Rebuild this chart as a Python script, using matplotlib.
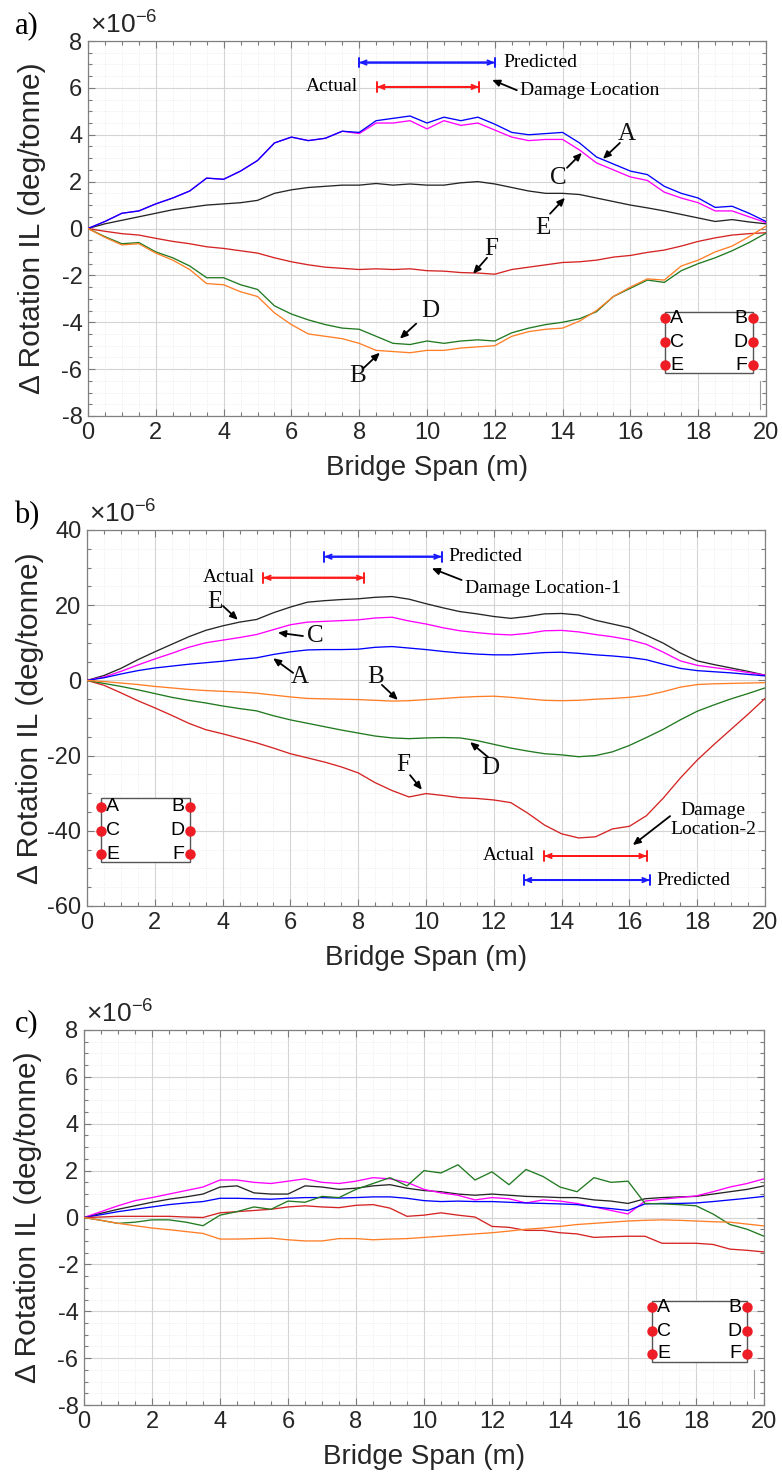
import numpy as np
import matplotlib.pyplot as plt
from matplotlib.patches import Rectangle

# bridge span sampling positions (m)
span = [0, 0.5, 1, 1.5, 2, 2.5, 3, 3.5, 4, 4.5, 5, 5.5, 6, 6.5, 7, 7.5, 8, 8.5, 9, 9.5, 10,
        10.5, 11, 11.5, 12, 12.5, 13, 13.5, 14, 14.5, 15, 15.5, 16, 16.5, 17, 17.5, 18, 18.5, 19, 19.5, 20]

# ---- panel a (x1e-6 deg/tonne) ----
a_A = [0, 0.3, 0.65, 0.75, 1.05, 1.3, 1.6, 2.15, 2.1, 2.45, 2.9, 3.65, 3.9, 3.75, 3.85, 4.15, 4.1, 4.6, 4.7, 4.8, 4.5,
       4.75, 4.6, 4.75, 4.45, 4.1, 4.0, 4.05, 4.1, 3.65, 3.05, 2.75, 2.45, 2.3, 1.8, 1.5, 1.3, 0.9, 0.95, 0.65, 0.3]
a_C = [0, 0.3, 0.65, 0.75, 1.05, 1.3, 1.6, 2.15, 2.1, 2.45, 2.9, 3.65, 3.9, 3.75, 3.85, 4.15, 4.05, 4.5, 4.5, 4.6, 4.25,
       4.6, 4.4, 4.5, 4.2, 3.9, 3.75, 3.8, 3.8, 3.35, 2.8, 2.5, 2.2, 2.05, 1.55, 1.3, 1.1, 0.75, 0.75, 0.5, 0.25]
a_E = [0, 0.2, 0.35, 0.5, 0.65, 0.8, 0.9, 1.0, 1.05, 1.1, 1.2, 1.5, 1.65, 1.75, 1.8, 1.85, 1.85, 1.92, 1.85, 1.9, 1.85,
       1.85, 1.95, 2.0, 1.9, 1.75, 1.6, 1.5, 1.5, 1.45, 1.3, 1.15, 1.0, 0.88, 0.75, 0.6, 0.45, 0.3, 0.38, 0.28, 0.2]
a_F = [0, -0.12, -0.22, -0.28, -0.42, -0.55, -0.65, -0.78, -0.85, -0.95, -1.05, -1.25, -1.42, -1.55, -1.65, -1.7,
       -1.75, -1.72, -1.75, -1.72, -1.8, -1.82, -1.88, -1.9, -1.95, -1.75, -1.65, -1.55, -1.45, -1.42, -1.35, -1.22,
       -1.15, -1.02, -0.92, -0.75, -0.55, -0.4, -0.28, -0.22, -0.18]
a_D = [0, -0.35, -0.65, -0.6, -1.0, -1.25, -1.6, -2.1, -2.1, -2.4, -2.6, -3.3, -3.65, -3.9, -4.1, -4.25, -4.3, -4.6,
       -4.9, -4.95, -4.8, -4.9, -4.8, -4.75, -4.8, -4.45, -4.25, -4.1, -4.0, -3.85, -3.55, -2.9, -2.55, -2.2, -2.3,
       -1.8, -1.5, -1.25, -0.95, -0.6, -0.2]
a_B = [0, -0.38, -0.7, -0.65, -1.05, -1.35, -1.75, -2.35, -2.4, -2.7, -2.9, -3.6, -4.1, -4.5, -4.6, -4.7, -4.9, -5.2,
       -5.25, -5.3, -5.2, -5.2, -5.1, -5.05, -5.0, -4.6, -4.4, -4.3, -4.25, -3.95, -3.5, -2.9, -2.5, -2.15, -2.2,
       -1.6, -1.35, -1.0, -0.75, -0.35, 0.1]

# ---- panel b ----
b_A = [0, 0.7, 1.7, 2.6, 3.3, 3.8, 4.3, 4.7, 5.1, 5.6, 6.0, 6.9, 7.6, 8.1, 8.2, 8.2, 8.3, 8.8, 9.0, 8.6, 8.2,
       7.7, 7.3, 7.0, 6.8, 6.8, 7.1, 7.4, 7.5, 7.2, 6.8, 6.5, 6.1, 5.5, 4.3, 3.2, 2.6, 2.3, 2.0, 1.6, 1.2]
b_C = [0, 0.9, 2.4, 4.1, 5.7, 7.2, 8.8, 10.0, 10.7, 11.4, 12.2, 13.5, 14.8, 15.5, 15.7, 15.9, 16.1, 16.6, 16.8, 15.8,
       15.0, 14.0, 13.2, 12.7, 12.3, 12.1, 12.5, 13.2, 13.3, 12.9, 12.2, 11.6, 10.8, 9.6, 7.5, 5.2, 4.0, 3.4, 2.8,
       2.1, 1.4]
b_E = [0, 1.3, 3.2, 5.5, 7.6, 9.6, 11.6, 13.3, 14.5, 15.5, 16.2, 18.0, 19.5, 20.8, 21.2, 21.5, 21.7, 22.1, 22.3,
       21.6, 20.4, 19.3, 18.3, 17.7, 17.0, 16.5, 17.0, 17.7, 17.8, 17.4, 16.0, 15.0, 14.0, 12.0, 9.9, 7.3, 5.2, 4.2,
       3.3, 2.4, 1.4]
b_B = [0, -0.3, -0.7, -1.1, -1.6, -2.0, -2.4, -2.7, -2.9, -3.1, -3.4, -3.9, -4.4, -4.8, -4.9, -5.0, -5.1, -5.3,
       -5.5, -5.4, -5.1, -4.8, -4.5, -4.3, -4.2, -4.5, -4.9, -5.3, -5.4, -5.3, -5.0, -4.8, -4.5, -4.0, -3.0, -1.8,
       -1.1, -0.9, -0.8, -0.7, -0.6]
b_D = [0, -0.8, -1.6, -2.5, -3.5, -4.5, -5.3, -6.0, -6.8, -7.5, -8.1, -9.4, -10.5, -11.4, -12.3, -13.2, -14.0,
       -14.8, -15.3, -15.5, -15.3, -15.2, -15.3, -16.0, -17.0, -18.0, -18.8, -19.5, -19.8, -20.3, -20.0, -19.0,
       -17.3, -15.2, -13.0, -10.5, -8.2, -6.5, -4.9, -3.5, -2.0]
b_F = [0, -1.3, -3.3, -5.4, -7.3, -9.3, -11.4, -13.1, -14.2, -15.4, -16.6, -18.0, -19.5, -20.6, -21.7, -23.0,
       -24.6, -27.2, -29.3, -31.0, -30.1, -30.6, -31.2, -31.4, -31.8, -32.5, -35.3, -38.5, -40.8, -41.9, -41.6,
       -39.5, -38.8, -36.0, -31.3, -26.0, -21.2, -17.0, -13.0, -9.0, -4.8]

# ---- panel c ----
c_A = [0, 0.12, 0.25, 0.35, 0.45, 0.55, 0.62, 0.68, 0.82, 0.82, 0.8, 0.78, 0.82, 0.85, 0.85, 0.83, 0.85, 0.88,
       0.88, 0.82, 0.72, 0.68, 0.7, 0.68, 0.68, 0.65, 0.62, 0.6, 0.58, 0.55, 0.45, 0.38, 0.3, 0.58, 0.6, 0.6, 0.62,
       0.68, 0.75, 0.82, 0.9]
c_C = [0, 0.25, 0.5, 0.72, 0.85, 1.0, 1.15, 1.3, 1.6, 1.6, 1.5, 1.45, 1.55, 1.65, 1.5, 1.45, 1.55, 1.7, 1.65, 1.5,
       1.2, 1.05, 0.95, 0.75, 0.85, 0.8, 0.62, 0.75, 0.7, 0.6, 0.45, 0.3, 0.15, 0.7, 0.78, 0.85, 0.92, 1.1, 1.3,
       1.45, 1.65]
c_E = [0, 0.18, 0.35, 0.5, 0.65, 0.78, 0.88, 1.0, 1.3, 1.35, 1.05, 1.0, 1.0, 1.35, 1.3, 1.2, 1.25, 1.35, 1.4, 1.25,
       1.15, 1.1, 1.0, 0.95, 1.0, 0.95, 0.9, 0.88, 0.85, 0.85, 0.75, 0.7, 0.6, 0.8, 0.85, 0.88, 0.9, 1.0, 1.1, 1.2,
       1.35]
c_B = [0, -0.12, -0.25, -0.35, -0.45, -0.52, -0.6, -0.68, -0.92, -0.92, -0.9, -0.88, -0.95, -1.0, -1.0, -0.9,
       -0.9, -0.95, -0.92, -0.9, -0.85, -0.8, -0.75, -0.7, -0.65, -0.58, -0.5, -0.45, -0.38, -0.3, -0.25, -0.2,
       -0.15, -0.12, -0.1, -0.12, -0.15, -0.18, -0.2, -0.28, -0.36]
c_D = [0, -0.12, -0.25, -0.2, -0.1, -0.1, -0.2, -0.35, 0.1, 0.25, 0.45, 0.35, 0.7, 0.65, 0.9, 0.85, 1.2, 1.45, 1.7,
       1.35, 2.0, 1.9, 2.25, 1.6, 1.95, 1.4, 2.05, 1.75, 1.3, 1.1, 1.7, 1.5, 1.55, 0.6, 0.58, 0.55, 0.5, 0.15, -0.3,
       -0.5, -0.8]
c_F = [0, 0.02, 0.05, 0.05, 0.05, 0.05, 0.02, 0.0, 0.2, 0.25, 0.3, 0.35, 0.45, 0.5, 0.45, 0.42, 0.52, 0.55, 0.4,
       0.05, 0.1, 0.2, 0.1, 0.02, -0.38, -0.42, -0.55, -0.55, -0.65, -0.7, -0.85, -0.82, -0.8, -0.8, -1.1, -1.1,
       -1.1, -1.15, -1.35, -1.4, -1.47]

colors = {"A": "#0000ff", "B": "#ff7f27", "C": "#ff00ff", "D": "#217a21", "E": "#262626", "F": "#d42424"}

plt.rcParams["font.family"] = ["Liberation Sans", "DejaVu Sans"]
plt.rcParams["mathtext.fontset"] = "custom"
plt.rcParams["mathtext.rm"] = "Liberation Sans"
plt.rcParams["axes.unicode_minus"] = False
SERIF = ["Liberation Serif", "DejaVu Serif"]


def style_axes(ax, ylim, ymajor, yminor):
    ax.set_xlim(0, 20)
    ax.set_ylim(*ylim)
    ax.set_xticks(np.arange(0, 21, 2))
    ax.set_xticks(np.arange(0, 20.01, 0.5), minor=True)
    ax.set_yticks(np.arange(ylim[0], ylim[1] + 0.01, ymajor))
    ax.set_yticks(np.arange(ylim[0], ylim[1] + 0.01, yminor), minor=True)
    ax.grid(which="major", color="#d4d4d4", lw=0.8)
    ax.grid(which="minor", color="#e8e8e8", lw=0.6, ls=":")
    ax.set_axisbelow(True)
    ax.tick_params(which="both", direction="in", top=True, right=True, colors="#7a7a7a",
                   labelcolor="#262626", labelsize=17, width=0.8)
    ax.tick_params(which="major", length=5, pad=4)
    ax.tick_params(which="minor", length=3)
    for s in ax.spines.values():
        s.set_color("#808080")
        s.set_linewidth(0.9)
    ax.set_xlabel("Bridge Span (m)", fontsize=20, color="#262626")
    ax.set_ylabel("Δ Rotation IL (deg/tonne)", fontsize=21.5, color="#262626")
    ax.xaxis.set_label_coords(0.5, -0.105)
    ax.yaxis.set_label_coords(-0.062, 0.5)
    ax.text(0.003, 1.045, r"$\times10^{-6}$", transform=ax.transAxes, fontsize=19,
            color="#262626", va="center", ha="left")


def plot_set(ax, vals):
    for key in ["E", "C", "A", "F", "D", "B"]:
        ax.plot(span, vals[key], color=colors[key], lw=0.95, zorder=3)


def range_bar(ax, x0, x1, y, color):
    ax.annotate("", xy=(x1, y), xytext=(x0, y),
                arrowprops=dict(arrowstyle="|-|,widthA=0.35,widthB=0.35", color=color, lw=1.4,
                                shrinkA=0, shrinkB=0))
    ax.annotate("", xy=(x1, y), xytext=(x0, y),
                arrowprops=dict(arrowstyle="<->,head_length=0.35,head_width=0.15", color=color, lw=1.4,
                                shrinkA=0, shrinkB=0))


def label(ax, txt, tpos, tail, tip, size=18):
    ax.text(*tpos, txt, family=SERIF, fontsize=size, ha="center", va="center", color="#111111")
    ax.annotate("", xy=tip, xytext=tail,
                arrowprops=dict(arrowstyle="-|>,head_length=0.45,head_width=0.2", color="k", lw=1.3,
                                shrinkA=0, shrinkB=0))


def sensor_box(ax, x0, x1, ytop, ybot, rows):
    ax.add_patch(Rectangle((x0, ybot), x1 - x0, ytop - ybot, transform=ax.transAxes, fc="white",
                           ec="#555555", lw=1.0, zorder=5))
    for (l, r), yy in zip([("A", "B"), ("C", "D"), ("E", "F")], rows):
        ax.plot([x0, x1], [yy, yy], "o", color="#ee1c24", ms=6.5, transform=ax.transAxes,
                zorder=6, clip_on=False)
        ax.text(x0 + 0.008, yy, l, transform=ax.transAxes, va="center", ha="left", fontsize=14, zorder=7)
        ax.text(x1 - 0.008, yy, r, transform=ax.transAxes, va="center", ha="right", fontsize=14, zorder=7)


fig = plt.figure(figsize=(7.82, 14.74), dpi=100)
W, H = 782, 1474


def add_axes(left, right, top, bottom):
    return fig.add_axes([left / W, 1 - bottom / H, (right - left) / W, (bottom - top) / H])


# ---------------- a) ----------------
ax1 = add_axes(88, 766, 41, 416)
style_axes(ax1, (-8, 8), 2, 0.5)
plot_set(ax1, {"A": a_A, "B": a_B, "C": a_C, "D": a_D, "E": a_E, "F": a_F})
range_bar(ax1, 8.0, 12.0, 7.08, "#1a1aff")
range_bar(ax1, 8.53, 11.53, 6.04, "#ff1a1a")
ax1.text(12.25, 7.08, "Predicted", family=SERIF, fontsize=14, va="center", ha="left")
ax1.text(7.97, 6.04, "Actual", family=SERIF, fontsize=14, va="center", ha="right")
ax1.text(12.74, 5.87, "Damage Location", family=SERIF, fontsize=14, va="center", ha="left")
ax1.annotate("", xy=(11.92, 6.34), xytext=(12.65, 5.9),
             arrowprops=dict(arrowstyle="-|>,head_length=0.45,head_width=0.2", color="k", lw=1.3,
                             shrinkA=0, shrinkB=0))
label(ax1, "A", (15.9, 4.04), (15.69, 3.65), (15.19, 2.97))
label(ax1, "C", (13.86, 2.16), (14.13, 2.59), (14.57, 3.23))
label(ax1, "E", (13.42, 0.03), (13.63, 0.63), (14.07, 1.31))
label(ax1, "F", (11.89, -0.87), (11.77, -1.25), (11.36, -1.93))
label(ax1, "D", (10.09, -3.51), (9.68, -4.06), (9.2, -4.7))
label(ax1, "B", (7.94, -6.28), (8.14, -5.94), (8.61, -5.3))
sensor_box(ax1, 0.851, 0.981, 0.277, 0.115, [0.261, 0.197, 0.136])
ax1.plot([19.82, 19.82], [-6.5, -7.7], color="#9a9a9a", lw=0.8)

# ---------------- b) ----------------
ax2 = add_axes(87, 765, 530, 906)
style_axes(ax2, (-60, 40), 20, 5)
ax2.yaxis.set_label_coords(-0.064, 0.5)
plot_set(ax2, {"A": b_A, "B": b_B, "C": b_C, "D": b_D, "E": b_E, "F": b_F})
range_bar(ax2, 7.0, 10.46, 32.9, "#1a1aff")
range_bar(ax2, 5.2, 8.18, 27.3, "#ff1a1a")
ax2.text(10.65, 32.9, "Predicted", family=SERIF, fontsize=14, va="center", ha="left")
ax2.text(4.95, 27.3, "Actual", family=SERIF, fontsize=14, va="center", ha="right")
ax2.text(11.15, 24.5, "Damage Location-1", family=SERIF, fontsize=14, va="center", ha="left")
ax2.annotate("", xy=(10.17, 29.8), xytext=(11.05, 26.7),
             arrowprops=dict(arrowstyle="-|>,head_length=0.45,head_width=0.2", color="k", lw=1.3,
                             shrinkA=0, shrinkB=0))
range_bar(ax2, 13.49, 16.51, -46.7, "#ff1a1a")
range_bar(ax2, 12.89, 16.6, -53.1, "#1a1aff")
ax2.text(13.2, -46.7, "Actual", family=SERIF, fontsize=14, va="center", ha="right")
ax2.text(16.8, -53.1, "Predicted", family=SERIF, fontsize=14, va="center", ha="left")
ax2.text(18.47, -37.1, "Damage\nLocation-2", family=SERIF, fontsize=14, va="center", ha="center",
         linespacing=1.1)
ax2.annotate("", xy=(16.1, -43.8), xytext=(17.2, -36.1),
             arrowprops=dict(arrowstyle="-|>,head_length=0.45,head_width=0.2", color="k", lw=1.3,
                             shrinkA=0, shrinkB=0))
label(ax2, "E", (3.78, 20.9), (4.01, 19.8), (4.45, 16.1))
label(ax2, "C", (6.73, 11.8), (6.37, 11.8), (5.63, 12.7))
label(ax2, "A", (6.28, 1.0), (6.08, 2.0), (5.49, 5.9))
label(ax2, "B", (8.5, 1.0), (8.7, -1.2), (9.17, -5.2))
label(ax2, "F", (9.32, -22.5), (9.53, -25.2), (9.88, -29.1))
label(ax2, "D", (11.89, -23.3), (11.83, -20.4), (11.3, -16.4))
sensor_box(ax2, 0.020, 0.152, 0.287, 0.118, [0.264, 0.200, 0.138])

# ---------------- c) ----------------
ax3 = add_axes(84, 764, 1030, 1405)
style_axes(ax3, (-8, 8), 2, 0.5)
plot_set(ax3, {"A": c_A, "B": c_B, "C": c_C, "D": c_D, "E": c_E, "F": c_F})
sensor_box(ax3, 0.835, 0.975, 0.277, 0.115, [0.261, 0.197, 0.136])
ax3.plot([19.7, 19.7], [-6.5, -7.7], color="#9a9a9a", lw=0.8)

for txt, yy in [("a)", 26), ("b)", 516), ("c)", 1024)]:
    fig.text(27 / W, 1 - yy / H, txt, family=SERIF, fontsize=22, ha="center", va="center")

fig.savefig("out.png", dpi=100)
plt.close(fig)
